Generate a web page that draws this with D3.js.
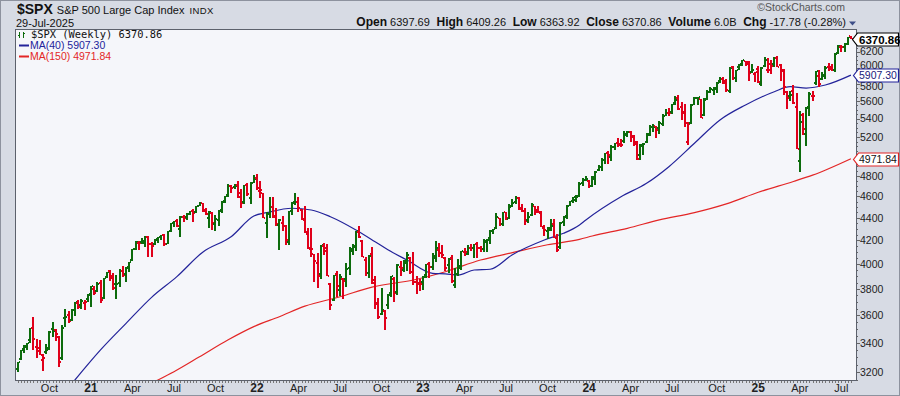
<!DOCTYPE html>
<html lang="en">
<head>
<meta charset="UTF-8">
<title>$SPX Weekly</title>
<script src="https://d3js.org/d3.v7.min.js"></script>
<style>
  body { margin: 0; background: #ffffff; }
  svg { display: block; font-family: "Liberation Sans", Arial, sans-serif; }
  text { white-space: pre; }
</style>
</head>
<body>
<svg id="chart" width="900" height="396"></svg>
<script>
// weekly bars, first bar = week starting Monday 27-Jul-2020
const firstWeek = "2020-07-27";
const prevClose = 3215.63;

const opens = [
  3219,3288,3356,3380,3419,3507,3371,3364,3285,3334,3367,3500,3493,3441,3296,3583,3600,3566,3641,3694,
  3675,3694,3723,3764,3803,3781,3851,3732,3892,3940,3886,3843,3844,3942,3916,3969,4034,4124,4179,4185,
  4192,4228,4169,4170,4217,4229,4248,4174,4285,4357,4372,4297,4410,4407,4438,4461,4450,4514,4536,4475,
  4403,4442,4349,4385,4464,4554,4610,4702,4689,4712,4628,4548,4710,4587,4733,4778,4655,4632,4357,4432,
  4505,4413,4332,4354,4327,4188,4462,4541,4547,4474,4385,4255,4130,4082,4013,3920,4151,4134,3839,3716,
  3920,3793,3880,3883,3966,4113,4155,4270,4195,4034,3930,4084,3846,3682,3610,3630,3677,3765,3881,3780,
  3977,3956,4006,4053,3939,3853,3843,3853,3911,3999,3979,4050,4119,4096,4052,3992,4055,3835,3917,3982,
  4102,4086,4138,4135,4167,4136,4126,4191,4226,4283,4308,4396,4344,4450,4394,4508,4543,4585,4492,4464,
  4380,4426,4510,4473,4445,4310,4284,4289,4343,4221,4140,4364,4407,4513,4555,4568,4593,4726,4758,4745,
  4703,4772,4853,4892,4957,5026,4989,5093,5131,5111,5154,5220,5258,5211,5149,5005,5114,5142,5233,5305,
  5316,5298,5341,5432,5460,5471,5572,5638,5528,5477,5151,5355,5557,5637,5623,5442,5615,5711,5726,5737,
  5836,5858,5833,5723,6009,5878,6003,6040,6083,6064,5941,5920,5983,5804,6014,5969,5970,6046,6121,6027,
  5969,5706,5653,5719,5527,4953,5441,5232,5529,5655,5808,5903,5855,5897,6004,6005,5970,6187,6255,6255,
  6305,6397.69
];
const highs = [
  3272,3352,3387,3399,3509,3588,3425,3419,3321,3393,3482,3550,3502,3447,3529,3646,3628,3644,3701,3712,
  3726,3711,3760,3827,3823,3859,3870,3887,3937,3950,3931,3914,3960,3983,3978,4020,4129,4192,4195,4218,
  4238,4238,4187,4214,4234,4249,4258,4287,4355,4372,4394,4415,4429,4442,4468,4480,4513,4546,4539,4487,
  4466,4457,4429,4476,4560,4608,4719,4714,4718,4744,4672,4713,4731,4740,4808,4819,4749,4636,4453,4595,
  4590,4490,4390,4416,4332,4465,4546,4637,4593,4478,4513,4308,4308,4086,4090,4159,4178,4168,3844,3913,
  3946,3919,3886,4013,4140,4167,4281,4325,4203,4062,4076,4140,3907,3733,3807,3642,3763,3905,3894,4000,
  4028,4034,4101,4057,4101,3906,3878,3907,4003,4016,4095,4195,4176,4159,4056,4048,4079,3965,4039,4110,
  4133,4164,4170,4170,4186,4154,4213,4212,4290,4300,4448,4400,4458,4456,4528,4579,4607,4595,4528,4490,
  4456,4541,4514,4511,4466,4338,4318,4386,4394,4256,4366,4415,4521,4560,4595,4610,4739,4778,4793,4755,
  4802,4843,4907,4976,5031,5048,5111,5140,5190,5180,5262,5265,5264,5220,5152,5123,5139,5239,5325,5342,
  5320,5376,5447,5506,5524,5570,5656,5670,5585,5566,5364,5564,5643,5651,5626,5636,5734,5767,5765,5823,
  5879,5879,5863,6013,6018,5972,6044,6100,6085,6085,6050,5950,6021,6011,6128,6120,6101,6128,6147,6043,
  5987,5712,5716,5787,5695,5482,5460,5528,5700,5721,5959,5968,5944,6017,6059,6050,6187,6285,6290,6315,
  6396,6409.26
];
const lows = [
  3204,3284,3329,3354,3398,3349,3297,3317,3209,3323,3354,3441,3415,3234,3280,3511,3543,3560,3594,3645,
  3647,3636,3700,3663,3750,3780,3694,3726,3885,3866,3789,3723,3819,3895,3853,3939,4025,4118,4118,4171,
  4147,4056,4061,4157,4178,4206,4151,4166,4275,4320,4315,4233,4367,4385,4424,4367,4445,4513,4457,4427,
  4306,4289,4279,4329,4447,4537,4596,4630,4672,4585,4495,4532,4600,4531,4730,4662,4582,4395,4223,4396,
  4401,4328,4115,4279,4157,4162,4425,4517,4450,4381,4267,4124,4062,3859,3810,3876,4073,3900,3637,3705,
  3738,3742,3722,3819,3911,4080,4112,4218,4057,3907,3887,3838,3648,3571,3602,3492,3647,3739,3698,3750,
  3907,3939,3940,3919,3828,3764,3784,3795,3887,3885,3950,4015,4060,4047,3943,3928,3847,3809,3901,3951,
  4069,4072,4114,4049,4048,4099,4098,4103,4166,4261,4304,4328,4328,4385,4389,4503,4528,4474,4450,4335,
  4356,4416,4430,4448,4317,4238,4216,4283,4224,4104,4127,4331,4393,4511,4537,4546,4591,4696,4751,4682,
  4688,4714,4845,4845,4918,4920,4946,5057,5094,5091,5138,5204,5146,5107,4954,4963,5011,5138,5212,5257,
  5191,5234,5324,5428,5432,5448,5557,5497,5390,5306,5119,5340,5553,5560,5403,5434,5608,5698,5674,5690,
  5813,5796,5703,5697,5853,5830,5973,6025,6023,5832,5932,5830,5811,5774,6010,5932,5924,6003,6008,5837,
  5667,5505,5603,5566,5069,4835,5220,5101,5433,5598,5786,5768,5847,5862,5952,5952,5943,6168,6201,6202,
  6282,6363.92
];
const closes = [
  3271,3351,3373,3397,3508,3427,3341,3319,3298,3348,3477,3484,3465,3270,3509,3585,3558,3638,3699,3663,
  3709,3703,3756,3825,3768,3841,3714,3887,3935,3907,3811,3842,3943,3913,3975,4020,4129,4185,4180,4181,
  4233,4174,4156,4204,4230,4247,4166,4281,4352,4370,4327,4412,4395,4437,4468,4442,4509,4535,4459,4433,
  4455,4357,4391,4471,4545,4605,4698,4683,4698,4595,4538,4712,4621,4726,4766,4677,4663,4398,4432,4501,
  4419,4349,4385,4329,4204,4463,4543,4546,4488,4393,4272,4132,4123,4024,3901,4158,4109,3901,3675,3912,
  3825,3899,3863,3962,4130,4145,4280,4228,4058,3924,4067,3873,3693,3586,3640,3583,3753,3901,3771,3993,
  3965,4026,4072,3934,3852,3845,3840,3895,3999,3973,4071,4136,4090,4079,3970,4046,3862,3917,3971,4109,
  4105,4138,4134,4169,4136,4124,4192,4205,4282,4299,4410,4348,4450,4399,4505,4536,4582,4478,4464,4370,
  4406,4516,4457,4450,4320,4288,4309,4328,4224,4117,4358,4415,4514,4559,4595,4604,4719,4755,4770,4697,
  4784,4840,4891,4959,5027,5006,5089,5137,5124,5117,5234,5254,5204,5123,4967,5100,5128,5223,5303,5305,
  5278,5347,5432,5465,5460,5567,5615,5505,5459,5347,5344,5554,5635,5648,5408,5626,5703,5738,5751,5815,
  5865,5808,5729,5996,5871,5969,6032,6090,6051,5931,5971,5942,5827,5997,6101,6041,6026,6115,6013,5955,
  5770,5639,5668,5581,5074,5363,5283,5525,5687,5660,5958,5803,5912,6000,5977,5968,6173,6279,6260,6297,
  6389,6370.86
];

// moving averages (week index, value)
const ma40Week = [12,18,26,34,42,50,58,67,74,78,86,92,98,106,112,116,122,130,134,138,143,148,155,165,171,176,178,189,197,204,212,220,228,237,242,247,253,261];
const ma40 =     [3000,3150,3351,3540,3735,3900,4100,4235,4418,4448,4489,4473,4411,4292,4189,4120,4034,3925,3920,3911,3952,3958,4079,4204,4263,4337,4382,4597,4726,4891,5133,5386,5555,5709,5768,5752,5788,5907.30];
const ma150Week = [38,44,49,57,66,74,82,90,101,111,124,134,145,155,166,176,180,191,201,212,222,232,243,249,261];
const ma150 =     [3090,3150,3204,3304,3422,3516,3589,3668,3740,3815,3871,3938,4034,4096,4163,4210,4239,4307,4382,4448,4529,4639,4744,4806,4971.84];

// price labels visible on the right axis (5000 and 6400 sit under the price tags)
const priceTicks = [3200,3400,3600,3800,4000,4200,4400,4600,4800,5200,5400,5600,5800,6000,6200];

const symbol = "$SPX", fullName = "S&P 500 Large Cap Index", exchange = "INDX", asOf = "29-Jul-2025";
const quote = [["Open","6397.69"],["High","6409.26"],["Low","6363.92"],["Close","6370.86"],["Volume","6.0B"],["Chg","-17.78 (-0.28%)"]];

const W = 900, H = 396;
const plot = {left: 16, top: 30, right: 856, bottom: 380};
const upColor = "#0c6b0c", downColor = "#e0001a";
const ma40Color = "#23239a", ma150Color = "#e32626";

const svg = d3.select("#chart");

var x = d3.scaleLinear().domain([0, closes.length - 1]).range([17.5, 850.9]);
var y = d3.scaleLog().domain([3149.6, 6484]).range([plot.bottom, plot.top]);

// frame
svg.append("rect").attr("width", W).attr("height", H).attr("fill", "#d7dbe4");
svg.append("rect").attr("x", 0.5).attr("y", 0.5).attr("width", W - 1).attr("height", H - 1)
  .attr("fill", "none").attr("stroke", "#8d929e");
svg.append("rect").attr("x", plot.left).attr("y", plot.top)
  .attr("width", plot.right - plot.left).attr("height", plot.bottom - plot.top)
  .attr("fill", "#f5f6fa");

svg.append("clipPath").attr("id", "clip").append("rect")
  .attr("x", plot.left).attr("y", plot.top)
  .attr("width", plot.right - plot.left).attr("height", plot.bottom - plot.top);

// header
var head = svg.append("g");
var t1 = head.append("text").attr("x", 17).attr("y", 14).attr("font-size", 14).attr("font-weight", "bold")
  .attr("fill", "#111").text(symbol);
var t2 = head.append("text").attr("x", 17 + t1.node().getComputedTextLength() + 4).attr("y", 14)
  .attr("font-size", 11).attr("fill", "#111").text(fullName);
head.append("text").attr("x", +t2.attr("x") + t2.node().getComputedTextLength() + 5).attr("y", 14)
  .attr("font-size", 9.5).attr("letter-spacing", 0.4).attr("fill", "#111").text(exchange);
head.append("text").attr("x", 16).attr("y", 27).attr("font-size", 11).attr("fill", "#111").text(asOf);
head.append("text").attr("x", 845).attr("y", 11).attr("text-anchor", "end").attr("font-size", 10.5)
  .attr("fill", "#555").text("\u00a9StockCharts.com");

var qt = head.append("text").attr("x", 846).attr("y", 26).attr("text-anchor", "end").attr("fill", "#111");
quote.forEach(function(q, i) {
  qt.append("tspan").attr("font-size", 12).attr("font-weight", "bold").text((i ? "  " : "") + q[0]);
  qt.append("tspan").attr("font-size", 11).text(" " + q[1]);
});
head.append("path").attr("d", "M849,21.5 L856,21.5 L852.5,25.5 Z").attr("fill", "#3e4f88");

// moving averages
var maLine = d3.line().x(d => x(d[0])).y(d => y(d[1])).curve(d3.curveMonotoneX);
var lines = svg.append("g").attr("clip-path", "url(#clip)");
lines.append("path").datum(d3.zip(ma150Week, ma150)).attr("d", maLine)
  .attr("fill", "none").attr("stroke", ma150Color).attr("stroke-width", 1.2);
lines.append("path").datum(d3.zip(ma40Week, ma40)).attr("d", maLine)
  .attr("fill", "none").attr("stroke", ma40Color).attr("stroke-width", 1.2);

// OHLC bars
var bars = svg.append("g").attr("clip-path", "url(#clip)").attr("shape-rendering", "crispEdges");
closes.forEach(function(c, i) {
  var prev = i ? closes[i - 1] : prevClose;
  var col = c >= prev ? upColor : downColor;
  var xc = Math.round(x(i));
  var yh = Math.round(y(highs[i])), yl = Math.round(y(lows[i]));
  bars.append("rect").attr("x", xc - 1).attr("y", yh).attr("width", 2)
    .attr("height", Math.max(1, yl - yh)).attr("fill", col);
  bars.append("rect").attr("x", xc - 2).attr("y", Math.round(y(opens[i])) - 1)
    .attr("width", 1).attr("height", 2).attr("fill", col);
  bars.append("rect").attr("x", xc + 1).attr("y", Math.round(y(c)) - 1)
    .attr("width", 1).attr("height", 2).attr("fill", col);
});

// plot border
svg.append("rect").attr("x", plot.left - 0.5).attr("y", plot.top - 0.5)
  .attr("width", plot.right - plot.left + 1).attr("height", plot.bottom - plot.top + 1)
  .attr("fill", "none").attr("stroke", "#5c616c");

// right axis
var ax = svg.append("g").attr("shape-rendering", "crispEdges");
d3.range(3150, 6451, 50).forEach(function(v) {
  var major = v % 200 === 0;
  ax.append("line").attr("x1", plot.right + 1).attr("x2", plot.right + (major ? 4 : 2))
    .attr("y1", Math.round(y(v)) + 0.5).attr("y2", Math.round(y(v)) + 0.5).attr("stroke", "#666");
});
var nudge = {6000: -2.5, 5800: 2};
priceTicks.forEach(function(v) {
  ax.append("text").attr("x", 860).attr("y", y(v) + (nudge[v] || 0)).attr("dy", "0.36em")
    .attr("font-size", 10.5).attr("fill", "#222").text(v);
});

// bottom axis
var dates = closes.map((c, i) => d3.timeDay.offset(new Date(firstWeek + "T00:00"), 7 * i));
dates.forEach(function(d, i) {
  ax.append("line").attr("x1", Math.round(x(i)) + 0.5).attr("x2", Math.round(x(i)) + 0.5)
    .attr("y1", plot.bottom + 1).attr("y2", plot.bottom + 3).attr("stroke", "#777");
  if (i === 0 || d.getMonth() === dates[i - 1].getMonth()) return;
  var m = d.getMonth();
  if (m % 3 !== 0) return;
  ax.append("text").attr("x", x(i)).attr("y", 392).attr("text-anchor", "middle")
    .attr("font-size", m === 0 ? 12 : 11).attr("font-weight", m === 0 ? "bold" : "normal")
    .attr("fill", "#222").text(m === 0 ? d3.timeFormat("%y")(d) : d3.timeFormat("%b")(d));
});

// price tags
function tag(value, label, stroke, bold, tip) {
  var yc = Math.round(y(value)) + 0.5;
  var g = svg.append("g");
  g.append("path")
    .attr("d", `M${tip},${yc} L${tip + 5},${yc - 6.5} L898.5,${yc - 6.5} L898.5,${yc + 6.5} L${tip + 5},${yc + 6.5} Z`)
    .attr("fill", "#fff").attr("stroke", stroke).attr("stroke-width", 1.2);
  g.append("text").attr("x", 859).attr("y", yc).attr("dy", "0.36em")
    .attr("font-size", bold ? 11.5 : 10.5).attr("font-weight", bold ? "bold" : "normal")
    .attr("fill", bold ? "#000" : stroke === ma40Color ? "#1a1a7a" : "#111").text(label);
}
tag(ma150[ma150.length - 1], "4971.84", ma150Color, false, 853.5);
tag(ma40[ma40.length - 1], "5907.30", ma40Color, false, 853.5);
tag(closes[closes.length - 1], "6370.86", "#000", true, 852.5);

// legend
var lg = svg.append("g");
lg.append("rect").attr("x", 19).attr("y", 32).attr("width", 1).attr("height", 6).attr("fill", upColor);
lg.append("rect").attr("x", 18).attr("y", 35).attr("width", 1).attr("height", 1).attr("fill", upColor);
lg.append("rect").attr("x", 23).attr("y", 32).attr("width", 1).attr("height", 6).attr("fill", upColor);
lg.append("rect").attr("x", 24).attr("y", 33).attr("width", 1).attr("height", 1).attr("fill", upColor);
lg.append("text").attr("x", 31).attr("y", 38).attr("font-family", "'DejaVu Sans Mono', monospace")
  .attr("font-size", 10.4).attr("fill", "#111").text("$SPX (Weekly) 6370.86");
lg.append("line").attr("x1", 19).attr("x2", 29).attr("y1", 45.5).attr("y2", 45.5)
  .attr("stroke", ma40Color).attr("stroke-width", 2);
lg.append("text").attr("x", 30).attr("y", 49).attr("font-size", 10.5).attr("fill", ma40Color).text("MA(40) 5907.30");
lg.append("line").attr("x1", 19).attr("x2", 29).attr("y1", 56.5).attr("y2", 56.5)
  .attr("stroke", ma150Color).attr("stroke-width", 2);
lg.append("text").attr("x", 30).attr("y", 60).attr("font-size", 10.5).attr("fill", ma150Color).text("MA(150) 4971.84");
</script>
</body>
</html>
